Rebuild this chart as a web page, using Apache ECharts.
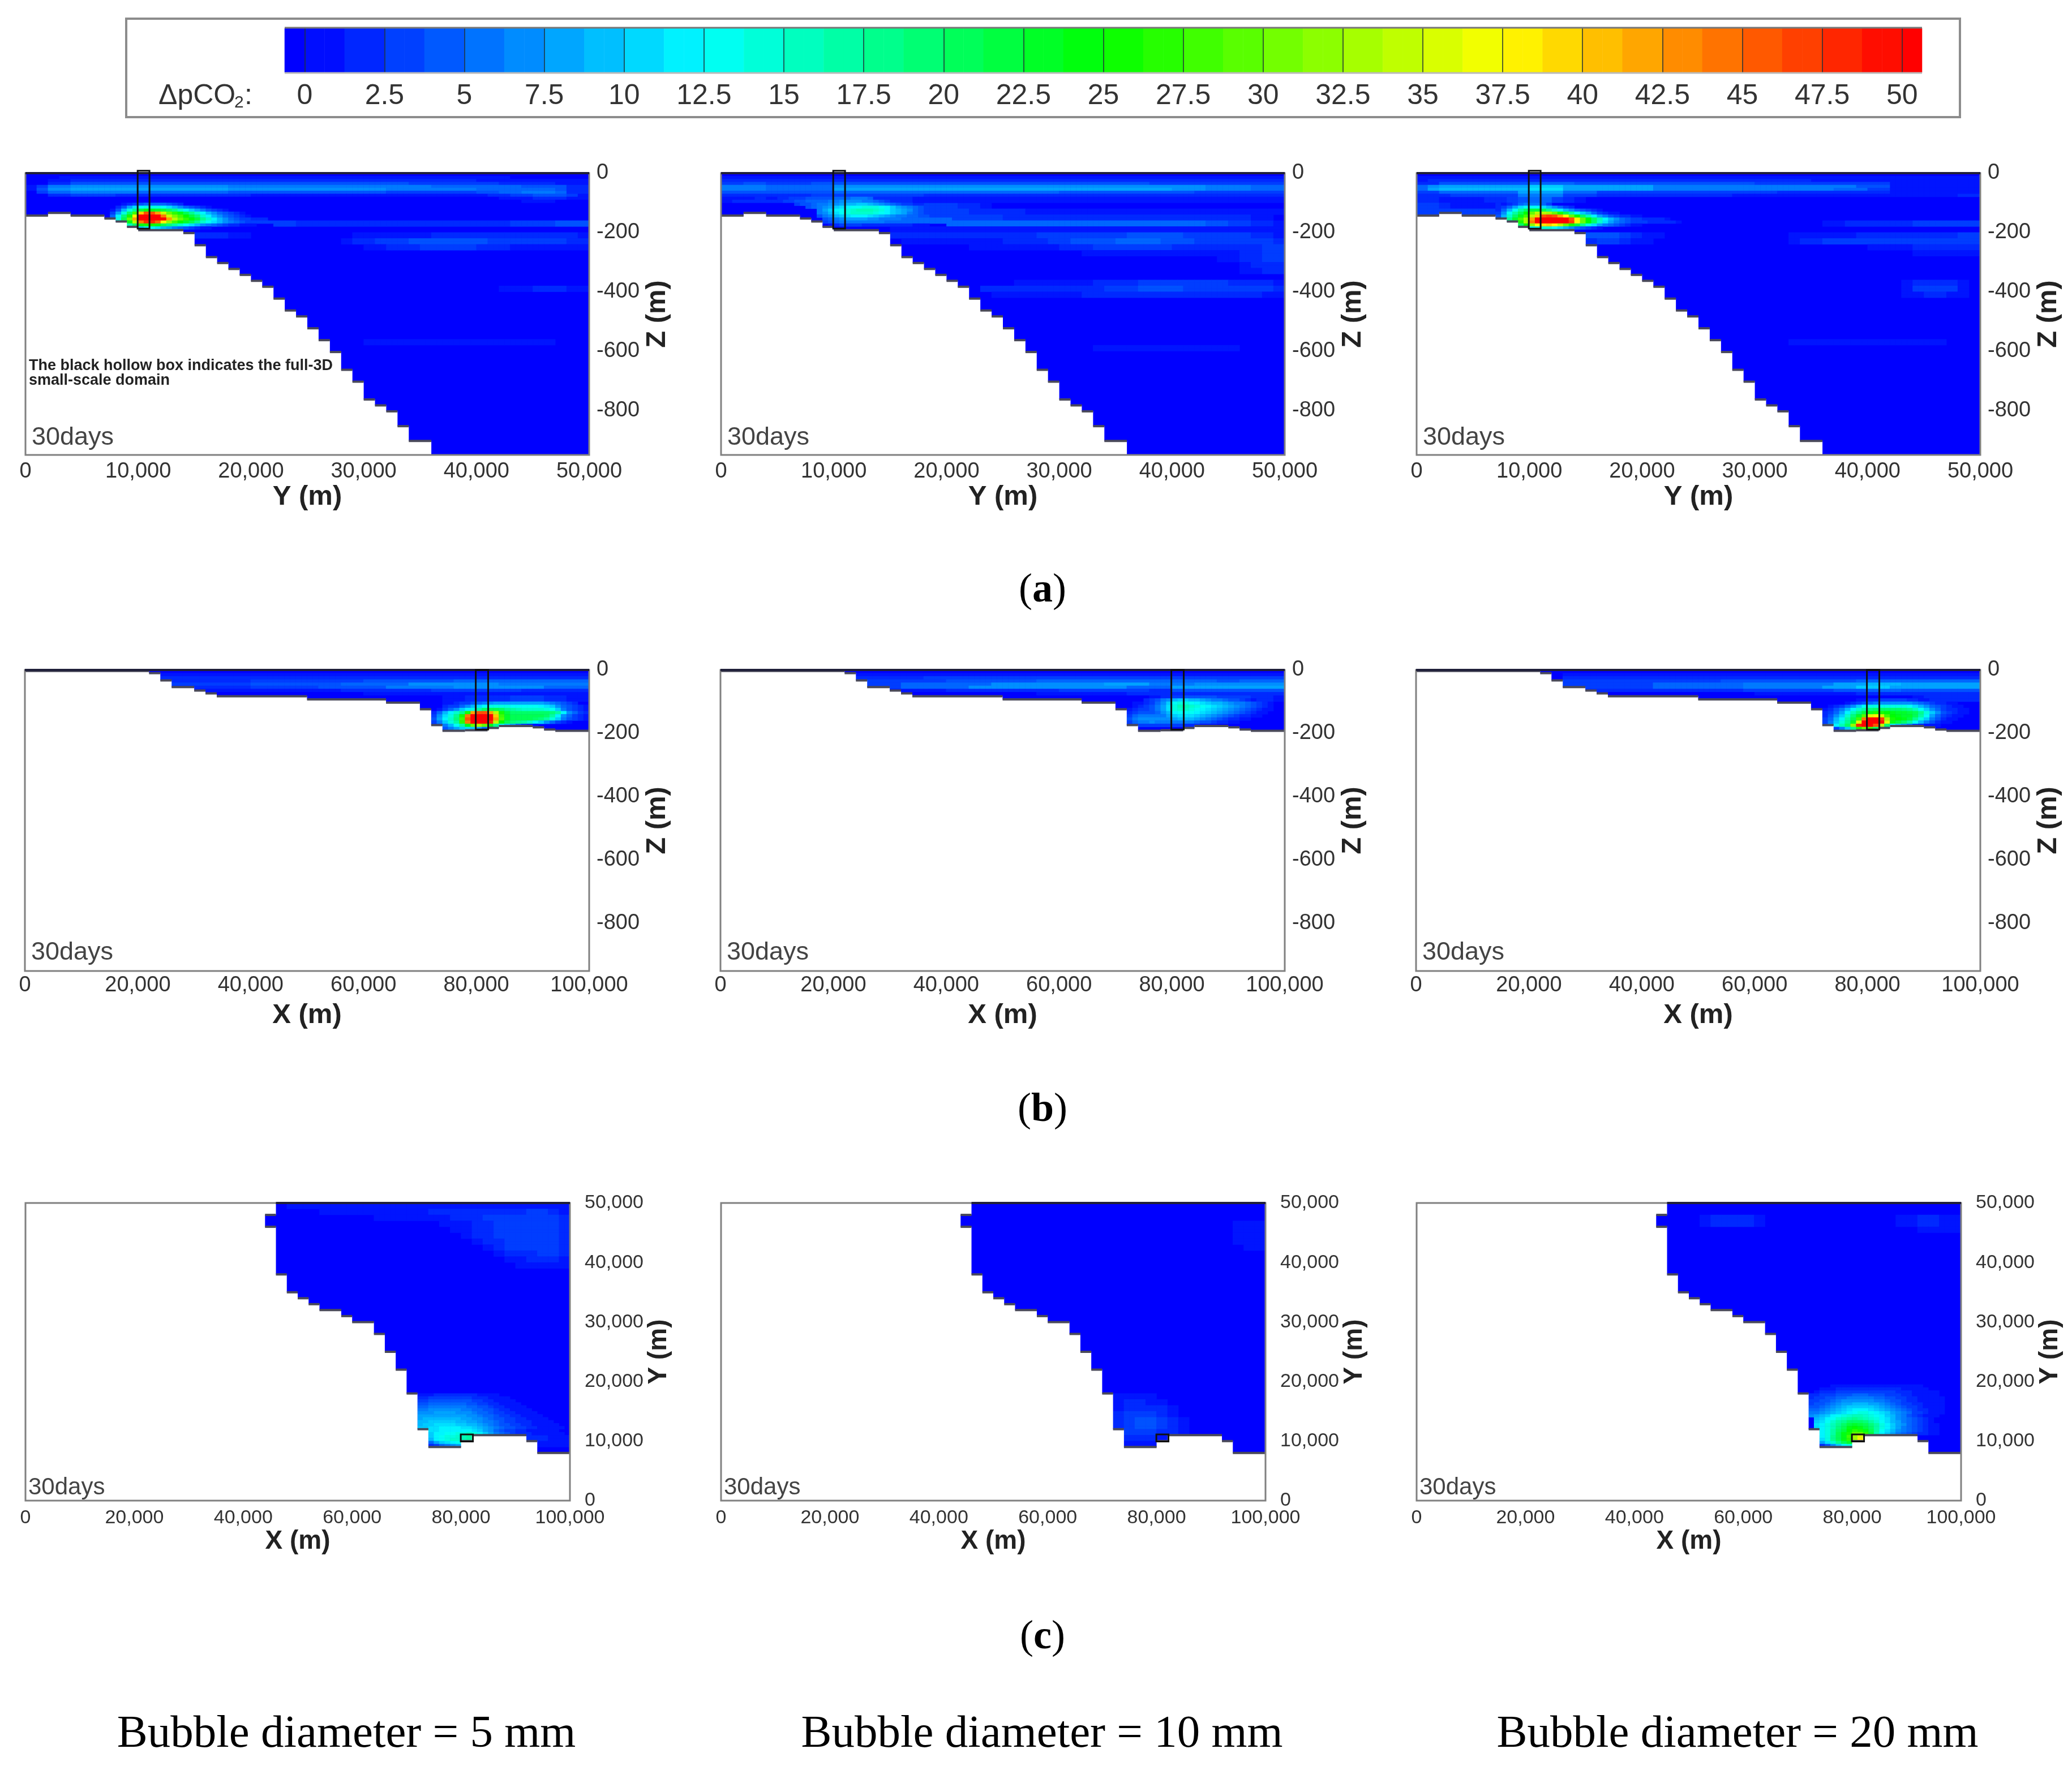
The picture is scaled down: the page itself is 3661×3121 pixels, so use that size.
<!DOCTYPE html>
<html><head><meta charset="utf-8">
<style>html,body{margin:0;padding:0;background:#fff}#c{width:3661px;height:3121px}</style>
<script src="https://cdn.jsdelivr.net/npm/echarts@6/dist/echarts.min.js"></script>
</head><body><div id="c"></div>
<script>
// ---------- tick labels ----------
const legendTicks=[0,2.5,5,7.5,10,12.5,15,17.5,20,22.5,25,27.5,30,32.5,35,37.5,40,42.5,45,47.5,50];
const legendBandValues=[0,0.625,1.875,3.125,4.375,5.625,6.875,8.125,9.375,10.625,11.875,13.125,14.375,15.625,16.875,18.125,19.375,20.625,21.875,23.125,24.375,25.625,26.875,28.125,29.375,30.625,31.875,33.125,34.375,35.625,36.875,38.125,39.375,40.625,41.875,43.125,44.375,45.625,46.875,48.125,49.375,50];
const zTicks=[0,-200,-400,-600,-800];
const yTicksRowA=[0,10000,20000,30000,40000,50000];
const xTicks=[0,20000,40000,60000,80000,100000];
const yTicksRowC=[0,10000,20000,30000,40000,50000];
const diameters=['Bubble diameter = 5 mm','Bubble diameter = 10 mm','Bubble diameter = 20 mm'];

// ---------- seabed outlines: [start of step, level] ----------
const seabedYZ=[[0,-143],[2000,-134],[4000,-143],[7000,-153],[8000,-163],[9000,-181],[10000,-192],[14000,-202],[15000,-243],[16000,-283],[17000,-303],[18000,-323],[19000,-343],[20000,-363],[21000,-383],[22000,-423],[23000,-463],[24000,-483],[25000,-523],[26000,-563],[27000,-603],[28000,-663],[29000,-703],[30000,-763],[31000,-783],[32000,-803],[33000,-853],[34000,-903],[36000,-950]];
const seabedXZ=[[0,-3],[22000,-10],[24000,-33],[26000,-54],[30000,-65],[32000,-74],[34000,-83],[50000,-93],[64000,-103],[70000,-124],[72000,-174],[74000,-192],[78000,-190],[82000,-183],[84000,-177],[90000,-181],[92000,-188],[94000,-192]];
const coastXY=[[0,50000],[46000,50000],[46000,48000],[44000,48000],[44000,46000],[46000,46000],[46000,38000],[48000,38000],[48000,35000],[50000,35000],[50000,34000],[52000,34000],[52000,33000],[54000,33000],[54000,32000],[58000,32000],[58000,31000],[60000,31000],[60000,30000],[64000,30000],[64000,28000],[66000,28000],[66000,25000],[68000,25000],[68000,22000],[70000,22000],[70000,18000],[72000,18000],[72000,12000],[74000,12000],[74000,9000],[80000,9000],[80000,10000],[82000,10000],[82000,11000],[92000,11000],[92000,10000],[94000,10000],[94000,8000],[100000,8000],[100000,0],[0,0]];
// small-scale domain boxes
const boxYZ=[[9950,8],[11000,8],[11000,-187],[9950,-187]];
const boxXZ=[[79900,0],[82100,0],[82100,-188],[79900,-188]];
const boxXY=[[79950,11130],[82180,11130],[82180,9930],[79950,9930]];

// ---------- dpCO2 ----------
// bands: [fine row, value, run length, value, run length ...] in wide columns from the left edge
// coarse: [row, first column, values]; fine: [fine row, first fine column, values]
const a1Bands=[
[1,0,3,1,40,0,7],[2,0,2,1,2,2,36,1,10],[3,0,2,2,2,4,30,3,8,2,5,1,3],
[4,1,1,3,1,6,2,7,14,6,18,5,8,4,4,2,2],[5,1,1,4,1,7,2,8,14,7,14,6,8,5,7,4,1,2,2],
[6,0,1,3,1,5,2,6,6,5,8,4,14,3,8,4,2,5,2,6,3,5,1,2,2],[7,0,2,2,2,3,4,2,12,1,21,2,2,3,2,4,3,3,1,1,1],
[8,0,42,1,3,2,3,1,2],[9,0,44,1,3,0,3]];
const a1Coarse=[
[8,22,[3,3,2,2,2,2,2,2,2,2,2,2,2,2,2,2,2,2,2,2,2,3,3,3,3,4,4,4]],
[10,14,[2,2,2,2,1,1]],[10,29,[1,1,1,1,1,1,1,2,2,2,2,2,2,2,2,2,2,2,2,2,1]],
[11,28,[1,2,2,3,3,3,4,4,4,4,4,4,4,3,3,3,3,3,3,3,2,2]],
[12,30,[1,1,2,2,2,3,3,3,3,3,2,2,2,1,1,1,1,1,1,1]],
[19,42,[1,1,1,2,2,2,1,1]],[28,30,[1,1,1,1,1,1,1,1,1,1,1,1,1,1,1,1,1]]];
const a1Fine=[
[10,17,[1,2,3,4,5,5,5,5,4,3,2]],
[11,16,[2,4,8,11,13,14,14,14,13,11,9,7,5,4,3,2,1]],
[12,15,[1,4,9,14,18,22,24,24,23,22,20,18,15,12,10,8,6,4,3,2,1]],
[13,15,[3,8,14,20,28,40,46,46,42,35,30,27,24,21,18,15,12,9,7,5,4,3,2,1]],
[14,15,[5,12,19,26,38,50,50,50,50,44,35,31,28,25,22,19,15,12,9,7,5,4,3,2,1]],
[15,16,[14,21,30,42,50,50,50,50,50,42,34,30,27,25,22,18,15,12,9,7,5,4,3,3,2,2,2]],
[16,17,[18,24,34,44,48,48,45,38,32,28,25,23,21,18,15,13,11,9,7,6,5,4,3,3,3,3,3]],
[17,18,[16,20,24,26,26,24,21,19,17,15,13,11,9,7,6,5,4,3,2,2,1,1,1]],
[18,20,[10,12,12,11,9,8,6,5,4,3,2,1,1]]];

const a2Bands=[
[1,1,50],[2,2,50],[3,3,2,4,2,3,4,4,30,3,12],[4,6,4,5,6,7,33,6,4,5,3],[5,6,4,5,6,8,30,7,3,6,4,5,3],
[6,4,10,5,20,4,12,3,8],[7,2,8,3,10,2,32],[8,1,3,2,14,1,33],[9,1,1,2,16,1,33]];
const a2Coarse=[
[5,17,[2,3,3,3,2,2,1]],
[6,17,[3,3,3,3,3,2,2,2,2,2,1,1,1,1,1,1,1,1,1,1,1,1,1,1,1,1,1,1,1,1,1,1,1]],
[7,17,[3,3,3,3,3,3,3,3,2,2,2,2,2,2,2,2,2,2,2,2,2,2,2,2,2,2,2,2,2,2,1,1]],
[8,20,[5,5,5,5,5,5,5,5,5,5,5,5,5,5,5,5,5,5,5,5,5,5,5,4,4,3,3,2,2,1]],
[9,15,[1,1,1,1,1,1,1,1,1,1,1,1,1,1,1,1,1,1,1,1,1,1,1,1,1,1,1,1,1,1,1,1,1,1,1]],
[10,15,[2,2,2,2,2,2,2,2,2,2,2,2,2,3,3,3,3,3,3,3,3,4,4,4,4,4,3,3,3,3,3,3,2,2,1]],
[11,16,[1,1,1,1,1,1,1,1,1,2,2,2,2,3,3,4,4,4,4,5,5,5,5,4,4,4,3,3,3,3,3,3,3,2]],
[12,22,[1,1,1,1,1,1,1,1,2,2,2,3,3,3,3,3,3,3,2,2,2,2,2,2,2,2,3,3]],
[13,32,[1,1,1,1,1,1,1,1,1,1,1,1,1,1,2,2,3,3]],
[14,44,[1,1,2,2,3,3]],[15,46,[1,2,2,2]],[16,46,[1,1,2,2]],
[18,26,[1,1,1,1,1,1,1,2,2,2,2,3,3,3,3,3,3,3,3,2,2,2,2,1]],
[19,23,[2,2,2,2,2,2,2,2,2,2,2,3,3,3,4,4,4,4,3,3,3,3,3,3,3,3,2]],
[20,24,[1,1,1,1,1,1,1,1,2,2,2,2,2,2,2,2,2,2,2,2,2,2,2,2,1,1]],
[29,33,[1,1,1,1,1,1,1,1,1,1,1,1,1]]];
const a2Fine=[
[8,8,[1,1,2,2,3,3,3,4,4,4,4,4,5,5,5,6,6,6,5]],
[9,10,[2,3,3,4,4,5,5,5,5,6,6,7,7,7,7,6,6,5,4,3,2]],
[10,13,[3,4,4,5,6,6,7,7,8,9,9,10,10,9,8,7,6,5,4,3,3]],
[11,15,[4,5,6,7,8,10,11,12,13,13,14,14,14,13,12,10,8,7,6,5,4,3]],
[12,17,[6,8,10,12,13,14,15,16,16,16,15,14,12,10,9,8,7,5,4,3]],
[13,17,[6,7,9,11,13,14,15,15,15,15,14,13,12,10,9,8,6,5,4,3]],
[14,17,[4,6,7,9,10,11,12,12,12,11,10,9,8,7,6,6,5,5,4,4]],
[15,18,[4,5,6,7,8,8,8,8,7,7,6,6,6,6,5,5,5,5,5,5,5,5,5]],
[16,18,[3,4,5,6,6,6,6,6,6,6,6,5,5,5,5,5,5,5,5,5,5,5,5]],
[17,19,[1,2,3,3,3,3,2,2,2,2,2,2,2,2,2,1,1,1]]];

const a3Bands=[
[1,1,50],[2,1,1,2,19,2,15,1,15],[3,2,2,4,8,5,4,4,16,3,12,1,8],
[4,5,1,7,1,8,8,10,3,8,8,6,18,4,3,1,8],[5,5,1,8,1,9,8,11,3,8,8,6,16,5,3,3,2,1,8],
[6,3,2,5,7,8,4,5,3,3,16,2,10,1,8],[7,2,3,3,6,6,4,3,3,2,12,1,20,2,2]];
const a3Coarse=[
[4,0,[2,2,1,1,1,1,2,2,3,4,5,5,3,2,1]],
[5,0,[3,3,2,1,1,1,1,2,3]],
[6,0,[3,3,3,3,3,3,3,3,3]],
[7,0,[1,2,2,2,2,2,2]],
[8,36,[1,1,2,2,2,2,2,2,3,3,3,3,3,3]],
[10,15,[4,4,4,3,2,1,1]],[10,33,[1,1,1,1,1,1,2,2,2,2,2,2,2,2,2,3,3]],
[11,15,[2,3,3,2,1,1]],[11,33,[1,2,2,3,3,3,3,3,3,3,3,3,3,3,3,3,3]],
[12,40,[1,1,1,1,2,2,2,2,2,2]],[13,44,[1,1,1,1,1,1]],
[18,43,[1,2,2,2,2,1]],[19,43,[1,3,3,3,3,1]],[20,43,[1,1,2,2,1,1]],
[28,33,[1,1,1,1,1,1,1,1,1,1,1,1,1,1]]];
const a3Fine=[
[10,15,[1,2,3,5,6,6,6,5,3]],
[11,15,[3,5,8,11,13,13,13,11,9,7,5,3,2]],
[12,14,[2,5,9,13,17,20,22,22,21,18,15,12,9,7,5,4,3,2,1]],
[13,14,[3,7,13,17,21,25,30,34,34,33,30,26,21,17,13,10,8,5,3,2,1,1]],
[14,14,[4,9,15,20,24,28,34,40,46,47,46,42,37,30,25,20,16,12,8,6,4,3,2,2,1,1]],
[15,15,[11,18,23,28,33,42,50,50,50,50,50,50,46,38,30,25,20,16,12,9,7,5,4,3,3,2,2,2,2,1]],
[16,17,[18,26,33,44,50,50,50,50,50,50,47,38,30,25,20,15,11,8,6,5,4,3,3,3,2,2,2,2,2,1]],
[17,18,[20,25,32,37,39,40,38,34,30,26,22,18,14,11,8,6,5,4,3,2,1,1]],
[18,20,[12,14,15,15,13,11,9,7,5,4,3,2,1]]];

const b1Bands=[
[1,0,12,1,38],[2,0,12,2,38],[3,0,12,2,8,3,10,4,8,5,12],[4,0,12,3,8,4,8,5,6,7,8,6,8],
[5,0,12,2,8,3,6,4,6,6,6,7,8,5,4],[6,0,12,1,16,2,8,3,8,2,6],[7,0,30,1,20]];
const b1Coarse=[[4,37,[1,1,2,2,2,2,3,3,3,2,2,1,1]]];
const b1Fine=[
[10,74,[1,1,2,3,3,4,5,6,7,8,8,8,8,8,8,8,8,8,7,6,5,4,3,2]],
[11,74,[2,3,3,5,7,9,11,13,14,14,14,14,13,13,13,13,13,12,11,10,7,5,4,3,2,1]],
[12,73,[1,3,5,7,10,12,14,17,20,21,21,20,18,17,16,15,15,15,15,14,13,10,6,4,3,2,1]],
[13,72,[2,5,9,12,15,18,26,42,46,46,42,34,26,22,20,20,20,20,20,20,20,19,17,12,7,5,3,2,1]],
[14,72,[3,7,11,14,18,26,44,50,50,50,50,40,28,23,21,21,21,21,21,21,20,17,12,7,5,3,2,1]],
[15,72,[4,8,12,15,19,28,46,50,50,50,50,42,29,23,21,21,21,21,20,19,17,14,10,6,4,3,2,1]],
[16,71,[1,3,6,10,14,17,27,44,50,50,50,48,34,25,21,19,18,17,15,12,10,7,5,3,2,1]],
[17,73,[3,6,9,13,17,24,30,33,30,24,18,13,10,8,5,3,2,1]],
[18,73,[2,4,6,8,10,11,10,8,5,3]]];

const b2Bands=[
[1,0,12,1,38],[2,0,12,2,6,3,32],[3,0,12,3,8,4,8,5,16,4,2,5,4],[4,0,12,3,4,5,8,7,10,8,4,6,4,7,8],
[5,0,12,3,4,5,6,7,14,5,4,8,10],[6,0,12,1,8,2,10,3,8,2,2,4,10],[7,0,28,1,8,2,14]];
const b2Coarse=[[4,38,[1,2,3,4,4,4,3,3,3,2,2,1]]];
const b2Fine=[
[9,75,[2,3,4,6,7,9,10,10,9,9,8,7,6,6,5,4,4,3,2,1]],
[10,73,[1,1,2,3,5,7,10,13,14,14,13,12,11,10,9,9,8,7,6,6,5,4,3,2,1]],
[11,73,[1,2,3,4,6,8,11,14,16,16,15,14,13,12,11,10,9,8,7,6,5,4,3,2,1]],
[12,72,[1,2,3,3,4,6,8,11,14,15,15,14,13,12,11,10,9,8,7,6,5,4,3,2,1,1]],
[13,72,[2,3,4,4,4,5,7,9,12,13,13,13,12,11,10,9,8,7,6,5,4,3,2,1,1]],
[14,72,[3,5,6,6,6,6,6,8,10,11,11,11,10,9,8,7,6,5,4,3,2,2,1,1]],
[15,72,[4,6,7,7,7,7,7,7,8,9,9,9,8,7,6,5,4,3,2,2,1,1]],
[16,72,[3,5,6,6,7,6,6,6,6,6,6,6,5,4,4,3,2,2,1,1]],
[17,73,[2,3,3,3,3,3,3,3,3,2,2,2,1,1,1]]];

const b3Bands=[
[1,0,13,1,37],[2,0,13,2,37],[3,0,13,3,14,4,12,5,11],[4,0,13,3,8,5,8,6,8,8,3,9,3,8,7],
[5,0,13,3,8,5,8,6,7,8,3,10,3,8,8],[6,0,13,2,16,3,8,4,3,5,3,4,7],[7,0,30,1,9,2,11]];
const b3Coarse=[[4,44,[1,2,2,2,2,2]]];
const b3Fine=[
[9,78,[1,1,2,2,3,3,3,3,3,2,2,1,1]],
[10,76,[1,2,3,4,5,6,7,7,7,7,7,7,6,5,4,3,2,2,1,1]],
[11,73,[1,2,3,5,7,10,13,14,14,14,14,14,14,14,13,11,9,7,5,4,3,2,1,1]],
[12,72,[1,2,4,6,9,12,15,17,19,20,20,20,20,20,19,18,16,13,10,7,5,3,2,2,1,1]],
[13,72,[2,3,5,8,12,16,19,22,24,26,26,25,24,23,23,22,21,18,14,10,7,4,3,2,1,1]],
[14,72,[2,4,7,10,15,19,23,29,36,38,35,28,25,24,23,23,21,17,13,8,5,3,2,1,1]],
[15,71,[1,3,5,9,12,17,21,28,44,50,50,47,33,26,25,24,22,18,14,10,6,4,2,1,1]],
[16,71,[1,3,6,10,14,18,23,36,50,50,50,49,36,24,22,20,17,13,9,6,4,2,1,1]],
[17,72,[4,8,12,16,20,32,48,50,50,46,34,20,12,10,8,6,3,2,1,1,1]],
[18,74,[3,6,10,18,26,30,28,20,10,4]]];

const c1Coarse=[
[49,24,[1,1,1,1,1,1,1,1,1,1,1,1,1,1,1,1,1,1,1,1,1,1,1,1,1,1]],
[48,27,[1,1,1,1,1,1,1,1,1,1,2,2,2,2,2,2,2,2,2,3,3,2,1]],
[47,32,[1,1,1,1,1,1,1,2,2,2,3,3,3,3,3,3,3,2]],
[46,38,[1,1,1,2,2,3,3,3,3,3,3,2]],[45,39,[1,1,2,2,3,3,3,3,3,3,2]],
[44,40,[1,2,2,3,3,3,3,3,3,2]],[43,41,[1,2,2,3,3,3,3,3,2]],[42,42,[1,2,3,3,3,3,3,2]],
[41,43,[1,2,2,2,3,3,2]],[40,44,[1,1,2,2,2,1]],[39,45,[1,1,1,1,1]],
[10,46,[2,2,1,1]],[9,47,[1,1,1]]];
const c1Fine=[
[35,72,[1,1,1,2,2,2,2,2,2,2,2,1,1,1,1]],
[34,72,[2,2,3,3,3,3,3,3,3,3,2,2,2,1,1,1,1]],
[33,72,[3,3,4,4,4,4,4,4,4,4,3,3,2,2,1,1,1,1]],
[32,72,[4,4,5,5,5,5,5,5,5,4,4,3,3,2,2,1,1,1,1]],
[31,72,[5,5,6,6,6,6,6,6,6,5,5,4,4,3,2,2,1,1,1,1]],
[30,72,[6,6,7,7,7,7,7,7,6,6,5,5,4,4,3,2,2,1,1,1,1]],
[29,72,[7,7,7,8,8,8,8,7,7,7,6,5,5,4,3,3,2,2,1,1,1,1]],
[28,72,[8,8,8,8,8,8,8,8,8,7,7,6,5,5,4,3,3,2,2,1,1,1,1]],
[27,72,[8,9,9,9,9,9,9,9,8,8,7,7,6,5,4,4,3,3,2,2,1,1,1,1]],
[26,72,[9,9,10,10,10,10,10,9,9,8,8,7,6,6,5,4,3,3,2,2,2,1,1,1,1]],
[25,72,[9,10,10,11,11,11,11,10,10,9,9,8,7,6,5,4,4,3,3,2,2,1,1,1,1,1]],
[24,72,[10,10,11,11,12,12,12,12,11,11,10,9,8,7,6,5,4,4,3,3,2,2,1,1,1,1,1]],
[23,73,[10,11,11,12,12,12,12,12,12,11,10,8,7,5,4,3,3,2,2,1,1,1,1,1,1]],
[22,74,[10,12,12,13,13,14,14,15,14,12,10,8,6,5,4,3,2,2,2,1,1,1,1,1,1]],
[21,74,[10,12,13,14,14,15,16,17,16]],[20,74,[9,12,13,14,15,15,16,17,16]],
[19,74,[5,8,10,11,12,13,14,15]],[18,74,[2,3,5,6,7,8,9]]];

const c2Coarse=[
[46,47,[1,1,1]],[45,47,[1,1,1]],[44,47,[1,1,1]],[43,47,[1,1,1]],[42,48,[1,1]],
[17,36,[1,1,1,1]],[16,36,[1,2,2,1,1]],[15,36,[1,2,2,2,2,1]],[14,36,[2,3,3,3,2,1]],
[13,36,[2,3,4,4,3,2,1]],[12,36,[2,3,4,4,3,2,1]],[11,36,[2,3,3,3,2,2,1]],
[10,37,[2,2,2,1,1]],[9,37,[1,1,1,1]]];
const c2Fine=[];

const c3Coarse=[
[47,26,[1,2,2,2,2,1]],[46,26,[1,2,2,2,2,1]],[47,44,[1,1,2,2,1,1]],[46,44,[1,1,2,2,1,1]],[45,46,[1,1,1,1]]];
const c3Fine=[
[38,76,[1,1,1,1,1,1,1,1,1,1,1,1,1,1,1,1,1]],
[37,74,[1,1,1,2,2,2,2,2,2,2,2,2,2,2,2,1,1,1,1,1]],
[36,73,[1,2,2,2,3,3,3,3,3,3,3,3,3,3,3,2,2,2,1,1,1,1,1]],
[35,72,[2,2,3,3,3,4,4,4,5,5,5,4,4,4,3,3,3,2,2,1,1,1,1,1]],
[34,72,[2,3,3,4,4,5,5,6,6,6,6,6,5,5,4,4,3,3,2,2,1,1,1,1,1]],
[33,72,[3,3,4,4,5,6,7,7,7,7,7,7,6,6,5,4,4,3,2,2,1,1,1,1,1]],
[32,72,[3,4,4,5,6,7,8,8,9,9,9,8,8,7,6,5,4,3,3,2,2,1,1,1,1]],
[31,72,[4,4,5,6,7,8,9,10,10,10,10,10,9,8,7,6,5,4,3,3,2,1,1,1,1]],
[30,72,[5,5,6,7,8,9,10,11,12,12,12,11,10,9,8,7,6,5,4,3,2,2,1,1,1]],
[29,72,[6,6,7,8,9,10,11,12,13,14,14,13,12,11,10,8,7,6,5,3,3,2,1,1,1]],
[28,72,[7,8,9,10,12,13,14,15,16,16,15,14,13,12,10,9,7,6,4,3,2,1,1,1]],
[27,73,[9,10,12,13,15,16,17,18,17,16,15,14,12,11,9,7,6,5,4,3,2,1]],
[26,73,[10,11,13,15,17,18,20,20,20,19,17,15,13,11,9,8,6,5,4,3,2,1]],
[25,73,[11,12,14,16,18,20,22,23,22,21,19,17,14,12,10,8,7,5,4,3,2,1,1]],
[24,73,[11,12,14,16,19,21,24,25,24,22,20,17,14,12,10,8,6,5,4,3,2,1,1]],
[23,73,[11,12,14,17,20,22,25,27,26,24,21,17,13,11,9,7,6,5,4,3,2,1,1]],
[22,73,[10,12,14,17,21,24,26,30,30,27,22,16,12,10,8,6,5,4,3,2,2,1,1]],
[21,74,[12,14,18,21,24,28,33,36,34,26]],[20,74,[11,14,18,21,24,27,33,38,36,28]],
[19,74,[8,11,15,18,21,23,25,26]],[18,74,[2,4,7,10,12,14,15]]];

// ---------- helpers ----------
const sans='"Liberation Sans",Arial,sans-serif', serif='"Liberation Serif","Times New Roman",serif';
const fmt=v=>Number(v).toLocaleString('en-US');
const seq=n=>Array.from({length:n},(_,i)=>i);
function buildCells(bands,coarse,fine,nx,ny){
  const m=new Map();
  const put=(x,y,v)=>{if(x<nx&&y<ny)m.set(x+'_'+y,[x,y,v]);};
  coarse.forEach(([r,c,vals])=>vals.forEach((v,i)=>{const x=2*(c+i),y=2*r;put(x,y,v);put(x+1,y,v);put(x,y+1,v);put(x+1,y+1,v);}));
  bands.forEach(b=>{let col=0;for(let i=1;i<b.length;i+=2){for(let n=0;n<b[i+1];n++,col++){put(2*col,b[0],b[i]);put(2*col+1,b[0],b[i]);}}});
  fine.forEach(([r,c,vals])=>vals.forEach((v,i)=>put(c+i,r,v)));
  return [...m.values()];
}
function stepsToPolygon(steps,xEnd,bottom){
  const out=[];
  steps.forEach((s,i)=>{out.push([s[0],s[1]]);out.push([i+1<steps.length?steps[i+1][0]:xEnd,s[1]]);});
  out.push([xEnd,bottom]);out.push([0,bottom]);return out;
}

const panels=[
 {row:'a',col:0,bands:a1Bands,coarse:a1Coarse,fine:a1Fine},{row:'a',col:1,bands:a2Bands,coarse:a2Coarse,fine:a2Fine},{row:'a',col:2,bands:a3Bands,coarse:a3Coarse,fine:a3Fine},
 {row:'b',col:0,bands:b1Bands,coarse:b1Coarse,fine:b1Fine},{row:'b',col:1,bands:b2Bands,coarse:b2Coarse,fine:b2Fine},{row:'b',col:2,bands:b3Bands,coarse:b3Coarse,fine:b3Fine},
 {row:'c',col:0,bands:[],coarse:c1Coarse,fine:c1Fine},{row:'c',col:1,bands:[],coarse:c2Coarse,fine:c2Fine},{row:'c',col:2,bands:[],coarse:c3Coarse,fine:c3Fine}];
const rows={
 a:{lefts:[45,1274,2503],top:306,w:996,h:498,xMax:50000,yMin:-950,yMax:0,nx:100,ny:95,inv:true,xt:yTicksRowA,yt:zTicks,
    xName:'Y (m)',yName:'Z (m)',font:38,tfont:49,xm:11,ym:13,xg:46,yg:96,edge:0,
    poly:stepsToPolygon(seabedYZ,36000,-950),box:boxYZ},
 b:{lefts:[44,1273,2502],top:1184,w:997,h:532,xMax:100000,yMin:-950,yMax:0,nx:100,ny:95,inv:true,xt:xTicks,yt:zTicks,
    xName:'X (m)',yName:'Z (m)',font:38,tfont:49,xm:7,ym:13,xg:54,yg:96,edge:0,
    poly:stepsToPolygon(seabedXZ,100000,-950),box:boxXZ},
 c:{lefts:[45,1274,2503],top:2126,w:962,h:526,xMax:100000,yMin:0,yMax:50000,nx:100,ny:100,inv:false,xt:xTicks,yt:yTicksRowC,
    xName:'X (m)',yName:'Y (m)',font:34,tfont:46,xm:14,ym:26,xg:46,yg:130,edge:46000,
    poly:coastXY,box:boxXY}};

const grid=[],xAxis=[],yAxis=[],series=[],heatIdx=[],graphic=[];

panels.forEach(p=>{
  const R=rows[p.row], g=grid.length, vx=xAxis.length, cx=vx+1, vy=yAxis.length, cy=vy+1;
  grid.push({show:true,left:R.lefts[p.col],top:R.top,width:R.w,height:R.h,backgroundColor:'#0000ff',borderWidth:0});
  xAxis.push({type:'value',gridIndex:g,min:0,max:R.xMax,position:'bottom',splitLine:{show:false},axisLine:{show:false},axisTick:{show:false},
    axisLabel:{customValues:R.xt,formatter:fmt,fontFamily:sans,fontSize:R.font,color:'#333',margin:R.xm,showMinLabel:true,showMaxLabel:true,hideOverlap:false},
    name:R.xName,nameLocation:'middle',nameGap:R.xg,nameTextStyle:{fontFamily:sans,fontSize:R.tfont,fontWeight:'bold',color:'#222'}});
  xAxis.push({type:'category',gridIndex:g,show:false,data:seq(R.nx)});
  yAxis.push({type:'value',gridIndex:g,min:R.yMin,max:R.yMax,position:'right',splitLine:{show:false},axisLine:{show:false},axisTick:{show:false},
    axisLabel:{customValues:R.yt,formatter:v=>v<0?String(v):fmt(v),fontFamily:sans,fontSize:R.font,color:'#333',margin:R.ym,padding:[4,0,0,0],showMinLabel:true,showMaxLabel:true,hideOverlap:false},
    name:R.yName,nameLocation:'middle',nameRotate:90,nameGap:R.yg,nameTextStyle:{fontFamily:sans,fontSize:R.tfont,fontWeight:'bold',color:'#222'}});
  yAxis.push({type:'category',gridIndex:g,show:false,inverse:R.inv,data:seq(R.ny)});

  heatIdx.push(series.length);
  series.push({type:'heatmap',name:'dpCO2 '+p.row+(p.col+1),xAxisIndex:cx,yAxisIndex:cy,z:1,silent:true,progressive:0,
    data:buildCells(p.bands,p.coarse,p.fine,R.nx,R.ny)});

  // land mask, frame and small-scale domain box
  series.push({type:'custom',name:'land '+p.row+(p.col+1),xAxisIndex:vx,yAxisIndex:vy,z:3,clip:false,silent:true,
    data:R.poly,
    renderItem:(params,api)=>{
      if(params.dataIndex!==0)return null;
      const pts=R.poly.map(v=>api.coord(v)), kids=[{type:'polygon',shape:{points:pts},style:{fill:'#fff',stroke:null}}];
      R.poly.forEach((v,i)=>{const n=R.poly[(i+1)%R.poly.length];
        if(v[1]===n[1]&&v[1]!==R.yMin&&v[1]!==R.yMax)kids.push({type:'polyline',shape:{points:[pts[i],pts[(i+1)%pts.length]]},style:{fill:null,stroke:'#4a4a5a',lineWidth:4}});});
      const c=(x,y)=>api.coord([x,y]);
      kids.push({type:'polygon',shape:{points:[c(0,R.yMax),c(R.xMax,R.yMax),c(R.xMax,R.yMin),c(0,R.yMin)]},style:{fill:null,stroke:'#808080',lineWidth:3}});
      kids.push({type:'polyline',shape:{points:[c(R.edge,R.yMax),c(R.xMax,R.yMax)]},style:{fill:null,stroke:'#20203a',lineWidth:4}});
      const bx=R.box.map(v=>api.coord(v));
      kids.push({type:'polygon',shape:{points:bx},style:{fill:null,stroke:'#101010',lineWidth:3}});
      return {type:'group',children:kids};
    }});
  const lx=R.lefts[p.col];
  const dy={a:774,b:1684,c:2629}[p.row], dx={a:11,b:11,c:5}[p.row];
  graphic.push({type:'text',z:20,style:{x:lx+dx,y:dy,text:'30days',fontFamily:sans,fontSize:p.row==='c'?42:45,fill:'#444',verticalAlign:'middle'}});
});

// colour bar
const lg=grid.length, lvx=xAxis.length, lcx=lvx+1, lcy=yAxis.length;
grid.push({left:503,top:50,width:2893,height:78});
xAxis.push({type:'value',gridIndex:lg,min:-0.625,max:50.625,position:'bottom',z:10,splitLine:{show:false},axisLine:{show:false},
  axisTick:{show:true,customValues:legendTicks,inside:true,length:78,lineStyle:{color:'#203038',width:1.5}},
  axisLabel:{customValues:legendTicks,fontFamily:sans,fontSize:50,color:'#333',margin:17,hideOverlap:false,showMinLabel:true,showMaxLabel:true}});
const legendCells=[];
legendBandValues.forEach((v,i)=>{const last=legendBandValues.length-1;const n=(i===0||i===last)?1:2;for(let k=0;k<n;k++)legendCells.push(v);});
xAxis.push({type:'category',gridIndex:lg,show:false,data:seq(legendCells.length)});
yAxis.push({type:'category',gridIndex:lg,show:false,data:['bar']});
heatIdx.push(series.length);
series.push({type:'heatmap',name:'legend',xAxisIndex:lcx,yAxisIndex:lcy,z:1,silent:true,data:legendCells.map((v,i)=>[i,0,v])});
yAxis.push({type:'value',gridIndex:lg,show:false,min:0,max:1});
series.push({type:'line',xAxisIndex:lvx,yAxisIndex:lcy+1,data:[],silent:true});

// text
const T=(x,y,text,size,o)=>graphic.push({type:'text',z:20,style:Object.assign({x,y,text,fontFamily:sans,fontSize:size,fill:'#222',align:'center',verticalAlign:'middle'},o||{})});
graphic.push({type:'rect',z:0,shape:{x:223,y:33,width:3240,height:174},style:{fill:'none',stroke:'#8c8c8c',lineWidth:4}});
graphic.push({type:'polyline',z:20,shape:{points:[[503,49],[3396,49]]},style:{fill:'none',stroke:'#777',lineWidth:3}});
graphic.push({type:'polyline',z:20,shape:{points:[[503,129],[3396,129]]},style:{fill:'none',stroke:'#bbb',lineWidth:3}});
T(280,170,'ΔpCO',50,{align:'left',fill:'#333'});
T(414,182,'2',30,{align:'left',fill:'#333'});
T(432,170,':',50,{align:'left',fill:'#333'});
T(51,647,'The black hollow box indicates the full-3D',27,{align:'left',fontWeight:'bold'});
T(51,673,'small-scale domain',27,{align:'left',fontWeight:'bold'});
[['a',1044],['b',1962],['c',2894]].forEach(([l,y])=>T(1842,y,'({b|'+l+'})',72,{fontFamily:serif,fill:'#000',rich:{b:{fontFamily:serif,fontSize:72,fontWeight:'bold',fill:'#000'}}}));
[612,1841,3070].forEach((x,i)=>T(x,3066,diameters[i],81,{fontFamily:serif,fill:'#000'}));

const chart=echarts.init(document.getElementById('c'),null,{renderer:'canvas',width:3661,height:3121});
chart.setOption({animation:false,backgroundColor:'#fff',grid,xAxis,yAxis,series,graphic,
  visualMap:{type:'continuous',show:false,min:0,max:50,seriesIndex:heatIdx,dimension:2,
    inRange:{color:['#0000ff','#00ffff','#00ff00','#ffff00','#ff0000']}}});
</script></body></html>
